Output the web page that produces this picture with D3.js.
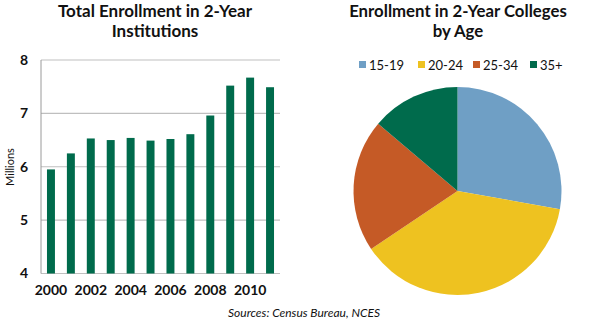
<!DOCTYPE html>
<html><head><meta charset="utf-8">
<script src="https://cdn.jsdelivr.net/npm/d3@7"></script>
<style>
body{margin:0;background:#fff;}
text{font-family:Lato,"Open Sans",sans-serif;}
</style></head>
<body><svg id="c" width="600" height="323"></svg>
<script>
const years = [2000,2001,2002,2003,2004,2005,2006,2007,2008,2009,2010,2011];
const enrollment = [5.95,6.25,6.53,6.50,6.54,6.49,6.52,6.61,6.96,7.52,7.67,7.49];
const yTicks = [4,5,6,7,8];
const xTickYears = [2000,2002,2004,2006,2008,2010];
const ageGroups = ["15-19","20-24","25-34","35+"];
const ageShares = [27.8,37.8,20.6,13.8];
const ageColors = ["#6F9FC5","#EEC220","#C55A26","#006B4C"];

const svg = d3.select("#c");

// ---- Bar chart ----
const x = d3.scaleBand().domain(years).range([41,280]).paddingInner(0.6).paddingOuter(0.3);
const y = d3.scaleLinear().domain([4,8]).range([273.5,60]);

const g = svg.append("g");
g.selectAll("line.grid").data(yTicks).join("line")
  .attr("x1",41).attr("x2",280).attr("y1",d=>y(d)).attr("y2",d=>y(d))
  .attr("stroke","#BFBFBF").attr("stroke-width",1.2);
g.append("line").attr("x1",41).attr("x2",41).attr("y1",60).attr("y2",273.5)
  .attr("stroke","#9A9A9A").attr("stroke-width",1);

g.selectAll("rect.bar").data(enrollment).join("rect")
  .attr("x",(d,i)=>x(years[i])).attr("width",x.bandwidth())
  .attr("y",d=>y(d)).attr("height",d=>y(4)-y(d))
  .attr("fill","#006B4C");

const yAxis = d3.axisLeft(y).tickValues(yTicks).tickSize(0).tickPadding(13).tickFormat(d3.format("d"));
g.append("g").attr("transform","translate(41,0)").call(yAxis)
  .call(a=>a.select(".domain").remove())
  .selectAll("text").attr("font-size",14).attr("font-weight","bold").attr("fill","#111")
  .attr("font-family","Lato, 'Open Sans', sans-serif");

const xAxis = d3.axisBottom(x).tickValues(xTickYears).tickSize(0).tickPadding(12);
g.append("g").attr("transform","translate(0,273.5)").call(xAxis)
  .call(a=>a.select(".domain").remove())
  .selectAll("text").attr("font-size",14).attr("font-weight","bold").attr("fill","#111")
  .attr("font-family","Lato, 'Open Sans', sans-serif");

g.append("text").attr("transform","translate(14,167) rotate(-90)")
  .attr("text-anchor","middle").attr("font-size",11).attr("fill","#111").text("Millions");

svg.append("text").attr("x",155).attr("y",17).attr("text-anchor","middle")
  .attr("font-size",17).attr("font-weight","bold").attr("fill","#111").text("Total Enrollment in 2-Year");
svg.append("text").attr("x",155).attr("y",37).attr("text-anchor","middle")
  .attr("font-size",17).attr("font-weight","bold").attr("fill","#111").text("Institutions");

// ---- Pie ----
svg.append("text").attr("x",458).attr("y",17).attr("text-anchor","middle")
  .attr("font-size",16.8).attr("font-weight","bold").attr("fill","#111").text("Enrollment in 2-Year Colleges");
svg.append("text").attr("x",458).attr("y",37).attr("text-anchor","middle")
  .attr("font-size",16.8).attr("font-weight","bold").attr("fill","#111").text("by Age");

const pie = d3.pie().sort(null).value(d=>d);
const arc = d3.arc().innerRadius(0).outerRadius(104);
const pg = svg.append("g").attr("transform","translate(457.5,191)");
pg.selectAll("path").data(pie(ageShares)).join("path")
  .attr("d",arc).attr("fill",(d,i)=>ageColors[i]);

const legendX = [359,418,473,530];
const lg = svg.append("g");
ageGroups.forEach((a,i)=>{
  lg.append("rect").attr("x",legendX[i]).attr("y",61).attr("width",7).attr("height",7).attr("fill",ageColors[i]);
  lg.append("text").attr("x",legendX[i]+10).attr("y",69.5).attr("font-size",13).attr("fill","#111").text(a);
});

svg.append("text").attr("x",228).attr("y",317).attr("font-size",12).attr("font-style","italic")
  .attr("fill","#111").text("Sources: Census Bureau, NCES");
</script></body></html>
